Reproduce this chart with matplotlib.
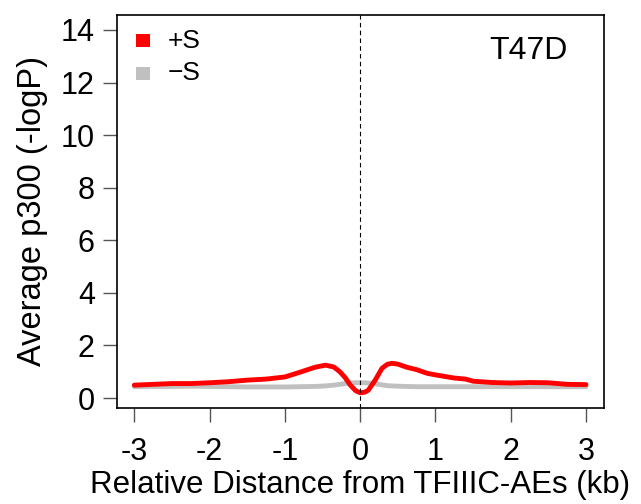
import matplotlib
matplotlib.use("Agg")
import matplotlib.pyplot as plt
from matplotlib.patches import Rectangle

plt.rcParams['font.family'] = ['Liberation Sans', 'DejaVu Sans']

# profile (kb, -logP)
dist = [-3.0, -2.75, -2.5, -2.25, -2.0, -1.75, -1.5, -1.25, -1.0, -0.8, -0.6,
        -0.46, -0.35, -0.27, -0.2, -0.13, -0.06, 0.0, 0.06, 0.11, 0.2, 0.29,
        0.36, 0.42, 0.5, 0.62, 0.75, 0.89, 1.0, 1.25, 1.4, 1.5, 1.75, 2.0,
        2.25, 2.5, 2.75, 3.0]
plus_s = [0.49, 0.52, 0.55, 0.55, 0.58, 0.62, 0.68, 0.72, 0.80, 0.98, 1.17,
          1.25, 1.18, 1.00, 0.78, 0.49, 0.28, 0.20, 0.22, 0.30, 0.68, 1.13,
          1.28, 1.32, 1.29, 1.17, 1.08, 0.94, 0.88, 0.76, 0.72, 0.64, 0.59, 0.57,
          0.59, 0.58, 0.52, 0.51]
minus_s = [0.43, 0.44, 0.44, 0.45, 0.44, 0.43, 0.42, 0.42, 0.42, 0.43, 0.44,
           0.46, 0.49, 0.52, 0.55, 0.57, 0.58, 0.58, 0.58, 0.57, 0.54, 0.50,
           0.47, 0.46, 0.45, 0.44, 0.43, 0.43, 0.43, 0.43, 0.43, 0.43, 0.43, 0.43,
           0.43, 0.43, 0.43, 0.43]
xticks = [-3, -2, -1, 0, 1, 2, 3]
yticks = [0, 2, 4, 6, 8, 10, 12, 14]

fig = plt.figure(figsize=(6.41, 5.04), dpi=100)
ax = fig.add_axes([117 / 641, 1 - 408 / 504, (604 - 117) / 641, (408 - 15) / 504])

ax.plot(dist, minus_s, color='#c0c0c0', lw=3.5, solid_capstyle='round', solid_joinstyle='round')
ax.plot(dist, plus_s, color='red', lw=3.5, solid_capstyle='round', solid_joinstyle='round')
ax.axvline(0, color='black', lw=0.8, ls=(0, (4, 3)))

ax.set_xlim(-3.23, 3.24)
ax.set_ylim(-0.38, 14.57)
ax.set_xticks(xticks)
ax.set_xticklabels([str(v) for v in xticks])
ax.set_yticks(yticks)
ax.tick_params(labelsize=22, length=10, width=1, color='#555555', pad=6)
ax.tick_params(axis='x', pad=11)
for s in ax.spines.values():
    s.set_linewidth(1.2)

ax.set_xlabel('Relative Distance from TFIIIC-AEs (kb)', fontsize=22.5, labelpad=2)
ax.set_ylabel('Average p300 (-logP)', fontsize=23.5, labelpad=9)

# legend
for i, (lab, col) in enumerate([('+S', 'red'), ('\u2212S', '#c0c0c0')]):
    yy = 1 - (40.5 + 33 * i) / 504
    fig.patches.append(Rectangle((136 / 641, yy - 6.5 / 504), 14 / 641, 13 / 504,
                                 facecolor=col, edgecolor='none', transform=fig.transFigure))
    fig.text(168 / 641, yy, lab, fontsize=19, va='center', ha='left')

fig.text(528 / 641, 1 - 51 / 504, 'T47D', fontsize=23, ha='center', va='center')

fig.savefig('out.png', dpi=100)
